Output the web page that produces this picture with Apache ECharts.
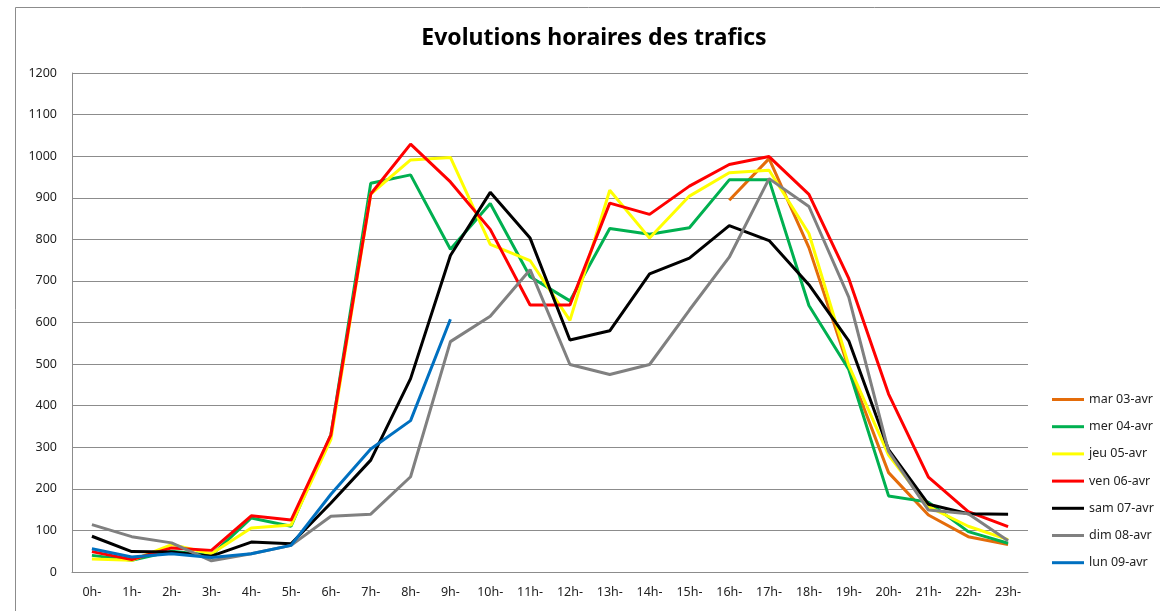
<!DOCTYPE html>
<html>
<head>
<meta charset="utf-8">
<script src="https://cdn.jsdelivr.net/npm/echarts@6/dist/echarts.min.js"></script>
<style>
  html, body { margin: 0; padding: 0; background: #ffffff; }
  #chart { width: 1160px; height: 611px; }
</style>
</head>
<body>
<div id="chart"></div>
<script>
const hours = ["0h-","1h-","2h-","3h-","4h-","5h-","6h-","7h-","8h-","9h-","10h-","11h-","12h-","13h-","14h-","15h-","16h-","17h-","18h-","19h-","20h-","21h-","22h-","23h-"];
const yTicks = [0, 100, 200, 300, 400, 500, 600, 700, 800, 900, 1000, 1100, 1200];

const marValues = [null,null,null,null,null,null,null,null,null,null,null,null,null,null,null,null,894,994,780,490,239,137,85,66];
const merValues = [40,28,50,40,130,110,330,935,955,776,886,710,652,826,812,828,943,943,641,487,183,168,97,69];
const jeuValues = [31,28,66,44,106,113,319,909,991,997,788,749,605,918,803,904,960,966,814,497,281,157,110,78];
const venValues = [49,30,58,52,135,125,330,909,1029,938,824,642,642,887,860,928,980,999,908,706,428,228,145,109];
const samValues = [86,49,48,38,72,68,166,269,465,761,913,803,558,580,717,755,833,797,691,556,294,163,140,139];
const dimValues = [114,85,70,27,44,64,134,139,229,554,615,727,499,475,499,630,757,946,879,661,290,149,140,75];
const lunValues = [56,36,44,35,44,64,187,296,364,608,null,null,null,null,null,null,null,null,null,null,null,null,null,null];

const seriesNames = ["mar 03-avr","mer 04-avr","jeu 05-avr","ven 06-avr","sam 07-avr","dim 08-avr","lun 09-avr"];
const seriesColors = ["#E46C0A","#00B050","#FFFF00","#FF0000","#000000","#808080","#0070C0"];
const seriesData = [marValues, merValues, jeuValues, venValues, samValues, dimValues, lunValues];

const chart = echarts.init(document.getElementById('chart'), null, { renderer: 'canvas' });

const option = {
  backgroundColor: '#ffffff',
  animation: false,
  textStyle: { fontFamily: 'Noto Sans' },
  graphic: [
    {
      type: 'rect',
      shape: { x: 15.5, y: 7.5, width: 1300, height: 800 },
      style: { fill: 'none', stroke: '#8c8c8c', lineWidth: 1 },
      silent: true
    },
    {
      type: 'text',
      x: 594, y: 38,
      style: {
        text: 'Evolutions horaires des trafics',
        font: 'bold 23px "Noto Sans"',
        fill: '#000000',
        align: 'center',
        verticalAlign: 'middle'
      }
    }
  ],
  legend: {
    orient: 'vertical',
    left: 1047,
    top: 388,
    itemWidth: 32,
    itemHeight: 3,
    itemGap: 14.2,
    icon: 'rect',
    textStyle: { fontSize: 12.5, color: '#222', fontFamily: 'Noto Sans' },
    data: seriesNames
  },
  grid: {
    left: 72,
    right: 132,
    top: 73,
    bottom: 39,
    containLabel: false
  },
  xAxis: {
    type: 'category',
    data: hours,
    boundaryGap: true,
    axisLine: { show: true, lineStyle: { color: '#8c8c8c', width: 1 } },
    axisTick: { show: false },
    axisLabel: { color: '#222', fontSize: 12.5, margin: 14, interval: 0, fontFamily: 'Noto Sans' },
    splitLine: { show: false }
  },
  yAxis: {
    type: 'value',
    min: yTicks[0],
    max: yTicks[yTicks.length - 1],
    interval: 100,
    axisLine: { show: true, lineStyle: { color: '#8c8c8c', width: 1 } },
    axisTick: { show: false },
    axisLabel: { color: '#222', fontSize: 12.5, margin: 15, fontFamily: 'Noto Sans', formatter: (v) => String(v) },
    splitLine: { show: true, lineStyle: { color: '#8c8c8c', width: 1 } }
  },
  series: seriesNames.map((name, i) => ({
    name: name,
    type: 'line',
    data: seriesData[i],
    symbol: 'none',
    showSymbol: false,
    connectNulls: false,
    color: seriesColors[i],
    lineStyle: { color: seriesColors[i], width: 3 },
    itemStyle: { color: seriesColors[i] },
    emphasis: { disabled: true }
  }))
};

chart.setOption(option);
</script>
</body>
</html>
